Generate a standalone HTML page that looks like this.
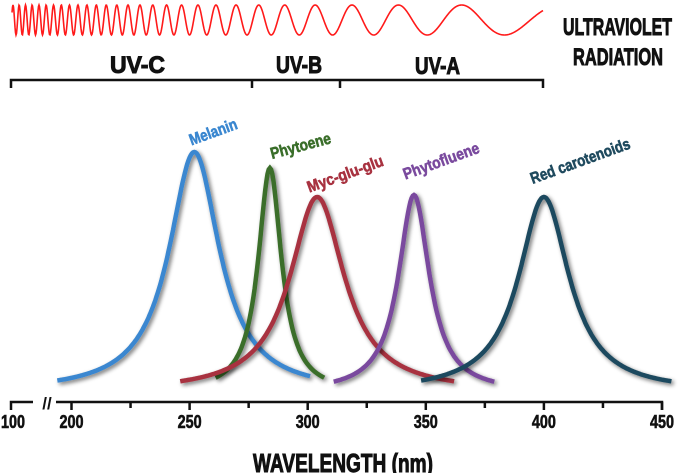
<!DOCTYPE html>
<html><head><meta charset="utf-8"><style>
html,body{margin:0;padding:0;background:#fff}
svg{display:block}
.cond{font-family:"Liberation Sans",sans-serif;font-weight:bold}
</style></head><body>
<svg id="chart" width="685" height="473" viewBox="0 0 685 473" xmlns="http://www.w3.org/2000/svg">
<defs>
<filter id="sh" x="-20%" y="-20%" width="140%" height="140%">
<feGaussianBlur in="SourceAlpha" stdDeviation="2.2" result="b"/>
<feOffset dx="2" dy="2" result="o"/>
<feComponentTransfer in="o" result="g"><feFuncA type="linear" slope="0.55"/></feComponentTransfer>
<feMerge><feMergeNode in="g"/><feMergeNode in="SourceGraphic"/></feMerge>
</filter>
</defs>
<path id="wave" fill="none" stroke="#ff1a1a" stroke-width="1.6"/>
<g stroke="#111" stroke-width="2.5" fill="none">
<path d="M11,88 V80 H543 V88"/>
<path d="M252,80 V88"/>
<path d="M340,80 V88"/>
</g>
<g class="cond" font-size="24" fill="#111" stroke="#111" stroke-width="1">
<text x="110" y="73" textLength="55" lengthAdjust="spacingAndGlyphs">UV-C</text>
<text x="276" y="73" textLength="46" lengthAdjust="spacingAndGlyphs">UV-B</text>
<text x="415" y="74" textLength="45" lengthAdjust="spacingAndGlyphs">UV-A</text>
<text x="563" y="35" textLength="109" lengthAdjust="spacingAndGlyphs">ULTRAVIOLET</text>
<text x="573" y="65" textLength="90" lengthAdjust="spacingAndGlyphs">RADIATION</text>
</g>
<g id="curves"></g>
<g id="labels" class="cond" font-size="16" stroke-width="0.6"></g>
<g id="axis" stroke="#111" stroke-width="2.5" fill="none">
<path d="M11,410 V402 H33"/>
<path d="M56,402 H662 V410" id="axisline"/>
<text x="47" y="409" class="cond" font-size="17" fill="#111" stroke="none" text-anchor="middle">//</text>
</g>
<g id="ticklabels" class="cond" font-size="18" fill="#111" stroke="#111" stroke-width="0.6"></g>
<text class="cond" font-size="26" fill="#111" stroke="#111" stroke-width="1" x="253" y="472" textLength="180" lengthAdjust="spacingAndGlyphs">WAVELENGTH (nm)</text>
</svg>
<script>
const tickValues = [200,225,250,275,300,325,350,375,400,425,450];
const tickLabels = ["200","250","300","350","400","450"];
const seriesNames = ["Melanin","Phytoene","Myc-glu-glu","Phytofluene","Red carotenoids"];
const seriesPeak = [252,284,304,345,400];
const seriesWidth = [13,6,14,8,13];
const seriesHeight = [240,224,195,197,195];
const seriesStart = [194,261,246,311,348];
const seriesEnd = [301,307,362,379,454];
const colors = ["#3a87d0","#3a6e2a","#a83240","#7a4a9e","#1f4a5e"];
const NS="http://www.w3.org/2000/svg";
const xs = nm => 71.5 + (nm-200)*2.362;
const base = 392;
const ys = h => base - h;

let d="", ph=0;
for(let x=12;x<=543;x+=0.5){
  const t=(x-12)/531;
  const P=6*Math.pow(20,t);
  ph+=2*Math.PI*0.5/P;
  const y=20-15*Math.sin(ph);
  d+=(x===12?"M":"L")+x.toFixed(1)+","+y.toFixed(2);
}
document.getElementById("wave").setAttribute("d",d);

const ax=document.getElementById("axis");
tickValues.forEach(v=>{
  const p=document.createElementNS(NS,"path");
  p.setAttribute("d","M"+xs(v)+",402 V"+(v%50===0?410:408));
  
  
  ax.appendChild(p);
});
const tl=document.getElementById("ticklabels");
function addTick(x,s){
  const t=document.createElementNS(NS,"text");
  t.setAttribute("x",x-12);t.setAttribute("y",428);t.textContent=s;
  t.setAttribute("textLength","24");t.setAttribute("lengthAdjust","spacingAndGlyphs");
  
  
  tl.appendChild(t);
}
addTick(13,"100");
tickLabels.forEach(s=>addTick(xs(+s),s));

const cg=document.getElementById("curves"), lg=document.getElementById("labels");
const labelPos=[[215,137,-20,50],[302,151,-15,62],[347,179,-20,80],[443,166,-20,80],[582,166,-20,105]];
seriesNames.forEach((n,i)=>{
  let pd="";
  for(let nm=seriesStart[i];nm<=seriesEnd[i]+0.001;nm+=0.5){
    const u=(nm-seriesPeak[i])/seriesWidth[i];
    const h=seriesHeight[i]/(1+u*u);
    pd+=(pd?"L":"M")+xs(nm).toFixed(1)+","+ys(h).toFixed(1);
  }
  const p=document.createElementNS(NS,"path");
  p.setAttribute("d",pd);p.setAttribute("fill","none");
  p.setAttribute("stroke",colors[i]);p.setAttribute("stroke-width","4.5");
  p.setAttribute("filter","url(#sh)");
  
  
  cg.appendChild(p);
  const t=document.createElementNS(NS,"text");
  const lp=labelPos[i];
  t.setAttribute("x",lp[0]-lp[3]/2);t.setAttribute("y",lp[1]);
  t.setAttribute("fill",colors[i]);t.setAttribute("stroke",colors[i]);
  t.setAttribute("textLength",lp[3]);t.setAttribute("lengthAdjust","spacingAndGlyphs");
  t.setAttribute("transform","rotate("+lp[2]+" "+lp[0]+" "+lp[1]+")");
  t.textContent=n;
  
  
  lg.appendChild(t);
});
</script>
</body></html>
